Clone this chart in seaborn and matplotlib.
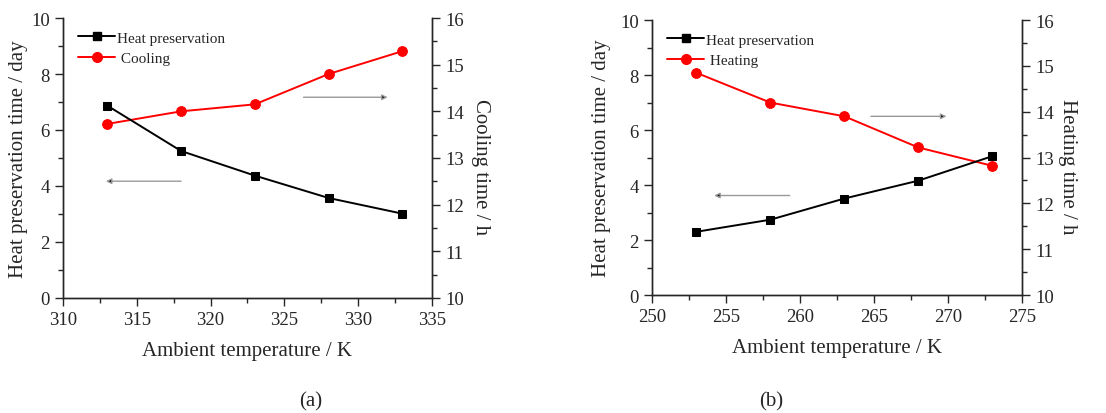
import matplotlib
matplotlib.use("Agg")
import matplotlib.pyplot as plt
import seaborn as sns
import numpy as np
from matplotlib.ticker import MultipleLocator
from matplotlib.lines import Line2D

# Data
temp_a = [313, 318, 323, 328, 333]
heat_pres_a = [6.87, 5.25, 4.37, 3.57, 3.01]
cooling_a = [13.73, 14.00, 14.15, 14.80, 15.29]

temp_b = [253, 258, 263, 268, 273]
heat_pres_b = [2.30, 2.74, 3.51, 4.16, 5.05]
heating_b = [14.85, 14.20, 13.90, 13.22, 12.82]

sns.set_style("ticks")
plt.rcParams['font.family'] = ['Liberation Serif', 'DejaVu Serif']

fig = plt.figure(figsize=(11.06, 4.14), dpi=100)
ax_a = fig.add_axes([0.057, 0.278, 0.3335, 0.676])
ax_b = fig.add_axes([0.5895, 0.285, 0.3345, 0.664])

def panel(ax, temps, hp, other, other_label, other_axis_label, xlim, arrow_right, arrow_left,
          ylab_x, y2lab_x):
    ax2 = ax.twinx()
    sns.lineplot(x=temps, y=hp, ax=ax, color='black', marker='s', markersize=6,
                 markeredgecolor='black', linewidth=1.4)
    sns.lineplot(x=temps, y=other, ax=ax2, color='#ff0000', marker='o', markersize=7,
                 markeredgecolor='#ff0000', linewidth=1.4)
    ax.set_xlim(*xlim)
    ax.set_ylim(0, 10)
    ax2.set_ylim(10, 16)
    ax.xaxis.set_major_locator(MultipleLocator(5))
    ax.xaxis.set_minor_locator(MultipleLocator(2.5))
    ax.yaxis.set_major_locator(MultipleLocator(2))
    ax.yaxis.set_minor_locator(MultipleLocator(1))
    ax2.yaxis.set_major_locator(MultipleLocator(1))
    ax2.yaxis.set_minor_locator(MultipleLocator(0.5))
    for a in (ax, ax2):
        a.spines['top'].set_visible(False)
        a.tick_params(which='major', direction='out', length=6, width=1, labelsize=13.5)
        a.tick_params(which='minor', direction='out', length=3.5, width=1)
        for s in a.spines.values():
            s.set_linewidth(1.0)
    ax2.spines['right'].set_visible(True)
    ax.set_xlabel("Ambient temperature / K", fontsize=15, labelpad=9)
    ax.set_ylabel("Heat preservation time / day", fontsize=15)
    ax.yaxis.set_label_coords(ylab_x, 0.5)
    ax2.set_ylabel(other_axis_label, fontsize=15, rotation=270, va='center')
    ax2.yaxis.set_label_coords(y2lab_x, 0.47)
    handles = [Line2D([], [], color='black', marker='s', markersize=6, lw=1.4),
               Line2D([], [], color='#ff0000', marker='o', markersize=7, lw=1.4)]
    ax.legend(handles, ["Heat preservation", " " + other_label], loc='upper left',
              frameon=False, fontsize=11, handlelength=2.4, handletextpad=0.1,
              borderaxespad=0.0, bbox_to_anchor=(0.025, 0.975), labelspacing=0.45)
    for start, end in (arrow_right, arrow_left):
        ax.annotate("", xy=end, xytext=start,
                    arrowprops=dict(arrowstyle='-|>', fc='black', ec='#999999', lw=1.0,
                                    mutation_scale=8, shrinkA=0, shrinkB=0))
    ax.set_zorder(ax2.get_zorder() + 1)
    ax.patch.set_visible(False)
    return ax2

panel(ax_a, temp_a, heat_pres_a, cooling_a, "Cooling", "Cooling time / h", (310, 335),
      ((326.3, 7.17), (332.0, 7.17)), ((318.0, 4.17), (312.9, 4.17)), -0.095, 1.133)
panel(ax_b, temp_b, heat_pres_b, heating_b, "Heating", "Heating time / h", (250, 275),
      ((264.8, 6.5), (269.9, 6.5)), ((259.3, 3.62), (254.2, 3.62)), -0.111, 1.123)

fig.text(0.281, 0.006, "(a)", fontsize=15, ha='center', va='bottom')
fig.text(0.697, 0.006, "(b)", fontsize=15, ha='center', va='bottom')

fig.savefig("out.png", dpi=100)
